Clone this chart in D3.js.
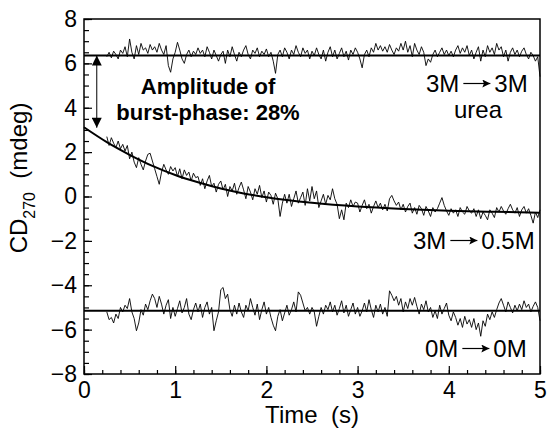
<!DOCTYPE html>
<meta charset="utf-8">
<title>CD270 burst phase</title>
<style>
body {
  margin: 0;
  background-color: white;
  font-family: 'Liberation Sans', Arial, Helvetica, sans-serif;
}
.tick text { font-size: 23px; font-family: 'Liberation Sans', Arial, sans-serif; }
.tick line { stroke: black; stroke-width: 1.2px; }
</style>
<svg width="548" height="435"></svg>
<script src="https://d3js.org/d3.v7.min.js"></script>
<script>
// sampling of the noisy traces (s)
var t0 = 0.25, dt = 0.025;

// 3M -> 3M urea
var trace3to3 = [
  6.3, 6.5, 6.25, 6.55, 6.4, 6.2, 6.6, 6.45, 6.75, 6.3,
  7.1, 6.5, 6.2, 6.8, 6.4, 6.9, 6.6, 6.7, 6.45, 6.85,
  6.6, 6.75, 6.5, 6.9, 6.6, 6.4, 6.8, 5.9, 5.6, 6.2,
  6.5, 6.95, 6.6, 6.2, 6.0, 6.4, 6.6, 6.3, 6.55, 6.4,
  6.7, 6.45, 6.6, 6.3, 6.75, 6.5, 6.2, 6.6, 6.35, 6.1,
  6.4, 6.55, 6.0, 6.6, 6.3, 6.75, 6.4, 6.1, 6.5, 6.3,
  6.6, 6.8, 6.4, 6.2, 6.6, 6.45, 6.7, 6.3, 6.55, 6.4,
  6.65, 6.3, 6.5, 6.1, 5.55, 6.4, 6.6, 6.3, 6.7, 6.5,
  6.2, 6.6, 6.4, 6.8, 6.5, 6.3, 6.7, 6.45, 6.6, 6.2,
  6.55, 6.35, 6.7, 6.4, 6.2, 6.6, 6.1, 6.5, 6.75, 6.3,
  6.6, 6.2, 6.45, 6.7, 6.3, 6.55, 6.15, 6.6, 6.4, 6.7,
  6.5, 6.2, 5.8, 6.4, 6.6, 6.3, 6.7, 6.5, 6.9, 6.6,
  6.8, 6.55, 6.75, 6.5, 6.85, 6.6, 6.4, 6.7, 6.55, 6.9,
  6.6, 7.0, 6.5, 6.8, 6.3, 6.9, 6.6, 6.4, 6.75, 6.5,
  5.9, 6.2, 6.05, 6.4, 6.6, 6.3, 6.5, 6.7, 6.4, 6.6,
  6.35, 6.55, 6.3, 6.6, 6.8, 6.45, 6.7, 6.5, 6.8, 6.35,
  6.6, 6.2, 6.5, 6.75, 6.1, 6.6, 6.3, 6.8, 6.5, 6.7,
  6.4, 6.9, 6.6, 6.75, 6.3, 6.6, 6.1, 6.5, 6.7, 6.4,
  6.6, 6.3, 6.55, 6.7, 6.4, 6.2, 6.5, 6.35, 6.1, 6.3,
  5.4
];

// 3M -> 0.5M urea
var trace3to05 = [
  2.7, 2.3, 2.65, 2.4, 2.2, 2.5, 2.15, 2.35, 2.05, 2.3,
  1.7, 2.0, 1.55, 1.3, 1.75, 1.45, 1.2, 1.6, 1.9, 1.95,
  1.6, 1.25, 0.9, 0.55, 1.1, 1.45, 1.2, 1.0, 1.35, 1.15,
  1.3, 0.9, 1.25, 0.8, 1.2, 0.95, 1.1, 0.7, 1.05, 0.85,
  0.9, 0.5, 0.8, 0.35, 0.7, 0.95, 0.45, 0.6, 0.2, 0.55,
  0.7, 0.3, 0.55, 0.0, 0.45, 0.25, 0.6, 0.1, 0.4, 0.65,
  0.3, -0.1, 0.45, 0.2, -0.15, 0.35, 0.1, 0.5, -0.05, 0.25,
  -0.25, 0.2, 0.05, -0.35, 0.15, -0.1, -0.9, -0.3, 0.1, -0.3,
  0.1, -0.45, -0.1, 0.25, -0.3, -0.05, 0.2, -0.4, 0.35, -0.2,
  0.45, -0.1, 0.25, -0.5, -0.2, 0.1, -0.35, 0.05, -0.15, 0.35,
  -0.1, -0.35, -1.0, -0.6, -1.05, -0.3, -0.5, -0.15, -0.45, -0.25,
  -0.3, -0.7, -0.4, -0.15, -0.55, -0.35, -0.75, -0.45, -0.2, -0.5,
  -0.3, -0.6, -0.35, -0.65, -0.1, 0.05, -0.2, -0.4, -0.25, -0.6,
  -0.35, -0.7, -0.45, -0.3, -0.75, -0.5, -0.8, -0.4, -0.55, -0.85,
  -0.45, -0.65, -0.9, -0.5, -0.7, -0.55, -0.3, -0.05, -0.4, -0.65,
  -0.85, -0.55, -0.75, -0.6, -0.9, -0.5, -0.7, -0.8, -0.45, -0.65,
  -0.75, -0.55, -0.9, -0.6, -1.0, -0.7, -0.85, -1.05, -0.6, -0.75,
  -0.95, -0.5, -0.7, -0.45, -0.65, -0.8, -0.55, -0.35, -0.6, -0.75,
  -0.5, -0.9, -0.6, -0.45, -0.75, -0.55, -0.85, -1.2, -0.7, -0.95,
  -0.6
];

// 0M -> 0M urea
var trace0to0 = [
  -5.2, -5.55, -5.45, -5.7, -5.3, -5.5, -5.0, -5.2, -4.9, -5.05,
  -4.6, -5.2, -5.5, -6.05, -5.7, -5.1, -5.35, -4.85, -5.1, -4.7,
  -4.4, -4.6, -5.0, -4.5, -4.85, -5.3, -4.9, -4.65, -5.5, -5.0,
  -5.4, -5.05, -4.7, -5.25, -5.0, -4.6, -5.3, -5.55, -5.1, -4.8,
  -5.2, -4.85, -5.45, -5.0, -4.75, -5.3, -5.0, -6.05, -5.6, -5.2,
  -4.2, -4.1, -4.6, -4.4, -5.1, -5.4, -4.9, -5.3, -4.8, -5.2,
  -5.45, -4.9, -5.15, -4.6, -5.0, -5.35, -4.85, -5.55, -5.1, -4.75,
  -5.3, -5.0, -5.45, -5.8, -6.05, -5.4, -5.1, -5.6, -5.25, -4.9,
  -5.35, -5.1, -4.75, -5.2, -4.3, -4.45, -4.8, -5.15, -5.0, -5.3,
  -5.0, -5.2, -5.85, -5.4, -5.0, -5.3, -4.9, -5.1, -4.75, -5.2,
  -4.9, -5.35, -5.05, -4.7, -5.25, -4.9, -5.4, -5.1, -4.8, -5.3,
  -5.0, -5.4, -5.15, -4.8, -5.2, -4.65, -5.1, -5.45, -4.9, -5.2,
  -4.85, -5.3, -5.0, -5.4, -4.25, -4.45, -4.7, -4.5, -4.9, -4.6,
  -5.2, -4.75, -5.05, -4.6, -4.9, -4.55, -4.95, -5.3, -4.85, -5.1,
  -4.7, -5.2, -5.0, -5.45, -5.15, -5.5, -4.9, -5.3, -5.05, -4.8,
  -5.35, -5.6, -5.2, -5.45, -5.8, -5.5, -5.9, -5.4, -5.75, -5.55,
  -5.9, -5.5, -6.0, -5.7, -6.3, -5.6, -5.85, -5.3, -5.55, -5.2,
  -5.45, -5.1, -4.8, -4.6, -4.9, -5.2, -4.75, -5.0, -5.25, -4.9,
  -5.15, -4.85, -5.1, -4.7, -5.0, -4.85, -5.2, -4.95, -4.75, -5.0,
  -5.6
];

// fitted curves
var fitTime = [0, 0.25, 0.5, 0.75, 1, 1.25, 1.5, 1.75, 2, 2.5, 3, 3.5, 4, 4.5, 5];
var fit3to05 = [3.12, 2.45, 1.88, 1.38, 0.97, 0.64, 0.36, 0.14, -0.03, -0.28, -0.45, -0.56, -0.64, -0.69, -0.73];
var fit3to3 = 6.35, fit0to0 = -5.15;

// burst-phase amplitude arrow
var burstAt = 0.14, burstFrom = 6.35, burstTo = 3.1;

var xTicks = [0, 1, 2, 3, 4, 5];
var yTicks = [-8, -6, -4, -2, 0, 2, 4, 6, 8];

var margin = {top: 19, right: 8, bottom: 61, left: 84},
    width = 548 - margin.left - margin.right,
    height = 435 - margin.top - margin.bottom;

var svg = d3.select("svg");
var g = svg.append("g").attr("transform", "translate(" + margin.left + "," + margin.top + ")");

var x = d3.scaleLinear().domain([0, 5]).range([0, width]);
var y = d3.scaleLinear().domain([-8, 8]).range([height, 0]);

function fmt(d) { return d < 0 ? "\u2212" + (-d) : d; }

// minor ticks
g.append("g").attr("class", "minor")
  .call(d3.axisLeft(y).tickValues(d3.range(-8, 8.01, 0.5)).tickSize(-5).tickFormat(""));
g.append("g").attr("class", "minor").attr("transform", "translate(0," + height + ")")
  .call(d3.axisBottom(x).tickValues(d3.range(0, 5.01, 0.2)).tickSize(-4).tickFormat(""));

g.append("g")
  .call(d3.axisLeft(y).tickValues(yTicks).tickSize(-8).tickPadding(7).tickFormat(fmt));
g.append("g").attr("transform", "translate(0," + height + ")")
  .call(d3.axisBottom(x).tickValues(xTicks).tickSize(-8).tickPadding(8).tickFormat(fmt));

g.selectAll(".domain").remove();
g.selectAll(".tick text").attr("fill", "black");

var noisy = d3.line()
  .x(function(d, i) { return x(t0 + i * dt); })
  .y(function(d) { return y(d); });

[trace3to3, trace3to05, trace0to0].forEach(function(tr) {
  g.append("path")
    .attr("d", noisy(tr))
    .attr("fill", "none")
    .attr("stroke", "black")
    .attr("stroke-width", 0.9)
    .attr("stroke-linejoin", "round");
});

var fitLine = d3.line()
  .x(function(d) { return x(d[0]); })
  .y(function(d) { return y(d[1]); })
  .curve(d3.curveMonotoneX);

g.append("path")
  .attr("d", fitLine(fitTime.map(function(t, i) { return [t, fit3to05[i]]; })))
  .attr("fill", "none").attr("stroke", "black").attr("stroke-width", 2);

[fit3to3, fit0to0].forEach(function(v) {
  g.append("line")
    .attr("x1", x(0)).attr("x2", x(5))
    .attr("y1", y(v)).attr("y2", y(v))
    .attr("stroke", "black").attr("stroke-width", 2);
});

// frame
g.append("rect")
  .attr("width", width).attr("height", height)
  .attr("fill", "none").attr("stroke", "black").attr("stroke-width", 1.5);

// arrow heads
var defs = svg.append("defs");
defs.append("marker")
  .attr("id", "head")
  .attr("viewBox", "0 0 10 10")
  .attr("refX", 10).attr("refY", 5)
  .attr("markerUnits", "userSpaceOnUse")
  .attr("markerWidth", 14).attr("markerHeight", 10)
  .attr("orient", "auto-start-reverse")
  .append("path").attr("d", "M0,0L10,5L0,10Z").attr("fill", "black");
defs.append("marker")
  .attr("id", "small")
  .attr("viewBox", "0 0 10 10")
  .attr("refX", 10).attr("refY", 5)
  .attr("markerUnits", "userSpaceOnUse")
  .attr("markerWidth", 11).attr("markerHeight", 8)
  .attr("orient", "auto")
  .append("path").attr("d", "M0,0L10,5L0,10L2,5Z").attr("fill", "black");

g.append("line")
  .attr("x1", x(burstAt)).attr("x2", x(burstAt))
  .attr("y1", y(burstFrom)).attr("y2", y(burstTo))
  .attr("stroke", "black").attr("stroke-width", 1)
  .attr("marker-start", "url(#head)")
  .attr("marker-end", "url(#head)");

var ann = g.append("text")
  .attr("text-anchor", "middle")
  .attr("font-weight", "bold")
  .attr("font-size", 22);
ann.append("tspan").attr("x", 124).attr("y", 75).text("Amplitude of");
ann.append("tspan").attr("x", 124).attr("y", 100.5).text("burst-phase: 28%");

// condition labels: "A -> B"
function condLabel(left, right, xStart, yBase) {
  var lab = g.append("g");
  var a = lab.append("text").attr("x", xStart).attr("y", yBase).attr("font-size", 24).text(left);
  var aw = a.node().getComputedTextLength();
  var ax1 = xStart + aw + 4, ax2 = ax1 + 27;
  lab.append("line")
    .attr("x1", ax1).attr("x2", ax2)
    .attr("y1", yBase - 8.5).attr("y2", yBase - 8.5)
    .attr("stroke", "black").attr("stroke-width", 1.2)
    .attr("marker-end", "url(#small)");
  lab.append("text").attr("x", ax2 + 4).attr("y", yBase).attr("font-size", 24).text(right);
}

condLabel("3M", "3M", 426 - margin.left, 92 - margin.top);
g.append("text").attr("x", 478 - margin.left).attr("y", 118 - margin.top)
  .attr("text-anchor", "middle").attr("font-size", 24).text("urea");
condLabel("3M", "0.5M", 413 - margin.left, 249 - margin.top);
condLabel("0M", "0M", 425 - margin.left, 357 - margin.top);

// axis titles
svg.append("text")
  .attr("x", margin.left + width / 2).attr("y", 423)
  .attr("text-anchor", "middle").attr("font-size", 24)
  .attr("xml:space", "preserve")
  .text("Time  (s)");

var yl = svg.append("text")
  .attr("transform", "translate(27,178) rotate(-90)")
  .attr("text-anchor", "middle").attr("font-size", 24)
  .attr("xml:space", "preserve");
yl.append("tspan").text("CD");
yl.append("tspan").attr("font-size", 16).attr("dy", 8).text("270");
yl.append("tspan").attr("dy", -8).text("  (mdeg)");
</script>
